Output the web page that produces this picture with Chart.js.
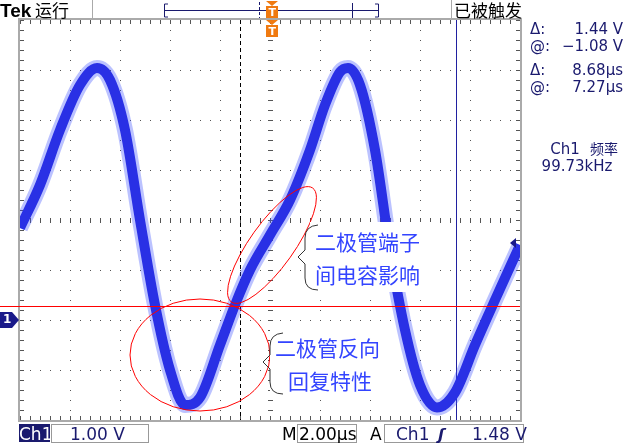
<!DOCTYPE html>
<html><head><meta charset="utf-8">
<script src="https://cdn.jsdelivr.net/npm/chart.js@4"></script>
<style>html,body{margin:0;padding:0;background:#fff}canvas{display:block}</style>
</head><body>
<div style="width:628px;height:443px"><canvas id="c" width="628" height="443"></canvas></div>
<script>
// time in µs, voltage in V (1 V/div, ground at -2 div)
const timeUs = [0,0.8,1.6,2.4,3.08,3.6,4.2,4.8,5.4,6.0,6.6,7.2,8.0,8.6,9.2,10.0,10.8,11.6,12.2,12.8,13.12,13.6,14.2,14.8,15.4,16.0,16.68,17.4,18.2,19.0,20.0];
const ch1Volts = [1.84,2.7,3.8,4.7,5.04,4.8,3.8,2.0,0.3,-1.0,-1.7,-1.55,-0.5,0.3,1.0,1.7,2.4,3.4,4.3,4.96,5.04,4.7,3.4,1.4,-0.2,-1.3,-1.75,-1.45,-0.5,0.4,1.5];
const trigLevel = 0.28;
const cursorTimes = [8.8, 17.44];
const readouts = ["Δ:", "1.44 V", "@:", "−1.08 V", "Δ:", "8.68µs", "@:", "7.27µs"];

const pts = timeUs.map((t,i)=>({x:t,y:ch1Volts[i]}));
const navy = '#1a1a6e';
const deco = {
  id:'deco',
  beforeDatasetsDraw(ch){
    const c=ch.ctx, a=ch.chartArea, xs=ch.scales.x, ys=ch.scales.y;
    c.save();
    c.fillStyle='#555';
    for(let i=1;i<10;i++){const x=Math.round(a.left+i*50);
      for(let y=a.top;y<=a.bottom;y+=10) c.fillRect(x,y,1,1);}
    for(let j=1;j<8;j++){const y=Math.round(a.top+j*50);
      for(let x=a.left;x<=a.right;x+=10) c.fillRect(x,y,1,1);}
    const cx=a.left+250, cy=a.top+200;
    for(let x=a.left;x<=a.right;x+=10){c.fillRect(x,cy-2,1,5);c.fillRect(x,a.top,1,4);c.fillRect(x,a.bottom-4,1,4);}
    for(let y=a.top;y<=a.bottom;y+=10){c.fillRect(cx-2,y,5,1);c.fillRect(a.left,y,4,1);c.fillRect(a.right-4,y,4,1);}
    c.strokeStyle='#aaa';c.lineWidth=2;c.strokeRect(a.left-1,a.top-1,a.right-a.left+2,a.bottom-a.top+2);
    c.strokeStyle='#000';c.lineWidth=1;c.setLineDash([4,3]);
    let x1=Math.round(xs.getPixelForValue(cursorTimes[0]))+0.5;
    c.beginPath();c.moveTo(x1,a.top);c.lineTo(x1,a.bottom);c.stroke();
    c.setLineDash([]);c.strokeStyle='#2020a0';
    let x2=Math.round(xs.getPixelForValue(cursorTimes[1]))+0.5;
    c.beginPath();c.moveTo(x2,a.top);c.lineTo(x2,a.bottom);c.stroke();
    c.restore();
  },
  afterDatasetsDraw(ch){
    const c=ch.ctx, a=ch.chartArea, xs=ch.scales.x, ys=ch.scales.y;
    c.save();
    const ty=Math.round(ys.getPixelForValue(trigLevel))+0.5;
    c.strokeStyle='#ff0000';c.lineWidth=1;
    c.beginPath();c.moveTo(0,ty);c.lineTo(a.right,ty);c.stroke();
    c.beginPath();c.ellipse(272,245,22,70,0.62,0,Math.PI*2);c.stroke();
    c.beginPath();c.ellipse(200,355,70,56,0,0,Math.PI*2);c.stroke();
    c.fillStyle='#fff';c.fillRect(310,222,130,70);c.fillRect(270,330,125,65);
    c.strokeStyle='#333';
    c.beginPath();c.moveTo(318,225);c.quadraticCurveTo(305,226,305,238);c.lineTo(305,250);c.lineTo(298,257);c.lineTo(305,264);c.lineTo(305,278);c.quadraticCurveTo(305,290,318,290);c.stroke();
    c.beginPath();c.moveTo(283,333);c.quadraticCurveTo(270,334,270,346);c.lineTo(270,355);c.lineTo(263,362);c.lineTo(270,369);c.lineTo(270,382);c.quadraticCurveTo(270,394,283,394);c.stroke();
    c.fillStyle='#3344ff';c.font='21px "Noto Sans CJK SC"';c.textBaseline='middle';
    c.fillText('二极管端子',315,242);c.fillText('间电容影响',315,275);
    c.fillText('二极管反向',275,348);c.fillText('回复特性',288,381);
    const gy=ys.getPixelForValue(0);
    c.fillStyle='#1a1a8a';c.beginPath();c.moveTo(0,gy-8);c.lineTo(12,gy-8);c.lineTo(19,gy);c.lineTo(12,gy+8);c.lineTo(0,gy+8);c.fill();
    c.fillStyle='#fff';c.font='bold 12px "DejaVu Sans"';c.fillText('1',3,gy);
    c.fillStyle='#1a1a8a';c.beginPath();c.moveTo(510,243);c.lineTo(516,238);c.lineTo(516,248);c.fill();
    // top bar
    c.fillStyle='#000';c.font='bold 19px "Liberation Sans"';c.textBaseline='alphabetic';c.fillText('Tek',0,17);
    c.font='17px "Noto Sans CJK SC"';c.fillText('运行',35,17);c.fillText('已被触发',454,17);
    c.strokeStyle='#aaa';c.beginPath();c.moveTo(92.5,0);c.lineTo(92.5,18);c.moveTo(451.5,0);c.lineTo(451.5,18);c.stroke();
    c.strokeStyle='#1a1a6e';c.beginPath();
    c.moveTo(168,4);c.lineTo(164.5,4);c.lineTo(164.5,17);c.lineTo(168,17);
    c.moveTo(165,10.5);c.lineTo(378,10.5);c.moveTo(375,4);c.lineTo(378.5,4);c.lineTo(378.5,17);c.lineTo(375,17);
    c.moveTo(352.5,3);c.lineTo(352.5,18);c.stroke();
    c.setLineDash([3,2]);c.beginPath();c.moveTo(259.5,2);c.lineTo(259.5,18);c.stroke();c.setLineDash([]);
    c.fillStyle='#f07a10';
    const tm=(x,y)=>{c.beginPath();c.moveTo(x-6,y);c.lineTo(x+6,y);c.lineTo(x,y+5);c.fill();c.fillRect(x-6,y+5,12,12);c.fillStyle='#fff';c.font='bold 11px "DejaVu Sans"';c.fillText('T',x-3.5,y+15);c.fillStyle='#f07a10';};
    tm(272,1);tm(272,20);
    c.fillStyle=navy;c.font='15px "DejaVu Sans"';
    const ry=[34,51,75,92];
    for(let i=0;i<4;i++){c.textAlign='left';c.fillText(readouts[2*i],530,ry[i]);c.textAlign='right';c.fillText(readouts[2*i+1],623,ry[i]);}
    c.textAlign='center';c.fillText('Ch1',565,154);c.font='14px "Noto Sans CJK SC"';c.fillText('频率',604,154);
    c.font='15px "DejaVu Sans"';c.fillText('99.73kHz',577,171);
    // bottom bar
    c.textAlign='left';
    c.fillStyle='#1a1a6e';c.fillRect(19,424,31,18);
    c.fillStyle='#fff';c.font='17px "DejaVu Sans"';c.fillText('Ch1',19,440);
    c.strokeStyle='#999';c.lineWidth=1;
    c.strokeRect(51.5,424.5,97,18);c.strokeRect(297.5,424.5,59,18);c.strokeRect(384.5,424.5,139,18);
    c.fillStyle=navy;c.fillText('1.00 V',70,440);
    c.fillStyle='#000';c.fillText('M',282,440);c.fillText('2.00µs',299,440);c.fillText('A',370,440);
    c.fillStyle=navy;c.fillText('Ch1',396,440);c.fillText('1.48 V',472,440);
    c.font='italic bold 16px "DejaVu Sans"';c.fillText('ʃ',438,440);
    c.restore();
  }
};
new Chart(document.getElementById('c'),{
  type:'line',
  data:{datasets:[
    {data:pts,borderColor:'rgba(60,80,255,0.35)',borderWidth:16,pointRadius:0,cubicInterpolationMode:'monotone'},
    {data:pts,borderColor:'#1f1fd8',borderWidth:10,pointRadius:0,cubicInterpolationMode:'monotone'}
  ]},
  options:{responsive:false,animation:false,events:[],
    layout:{padding:{left:20,right:108,top:20,bottom:23}},
    plugins:{legend:{display:false},tooltip:{enabled:false}},
    scales:{x:{type:'linear',min:0,max:20,display:false},y:{min:-2,max:6,display:false}}},
  plugins:[deco]
});
</script></body></html>
